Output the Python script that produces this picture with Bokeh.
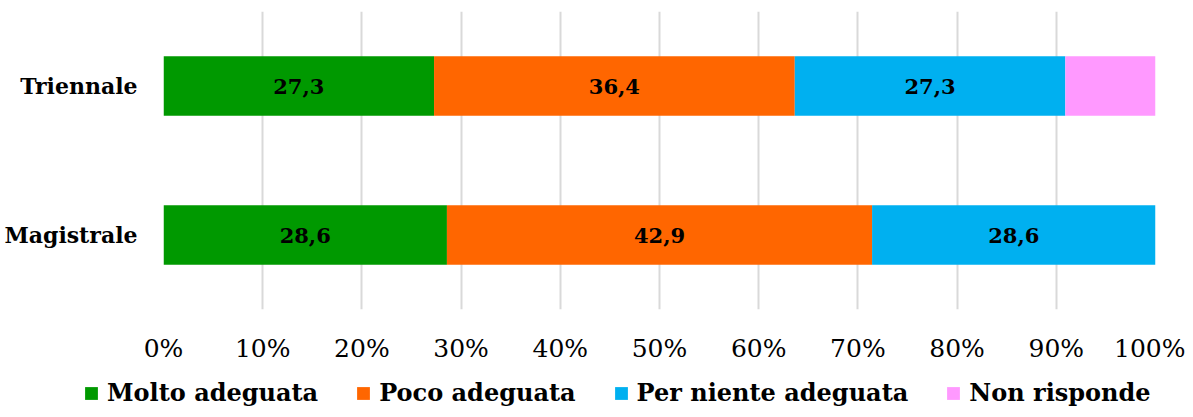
from bokeh.plotting import figure
from bokeh.layouts import column
from bokeh.models import ColumnDataSource, Range1d, FactorRange, FixedTicker, Legend, LegendItem, CustomJSTickFormatter
from bokeh.core.properties import value
from bokeh.embed import file_html
from bokeh.resources import INLINE

categories = ["Magistrale", "Triennale"]
series = ["Molto adeguata", "Poco adeguata", "Per niente adeguata", "Non risponde"]
molto = [28.6, 27.3]
poco = [42.9, 36.4]
per_niente = [28.6, 27.3]
non_risp = [0.0, 9.1]
colors = ["#009900", "#ff6600", "#00b0f0", "#ff99ff"]
ticks = [0, 10, 20, 30, 40, 50, 60, 70, 80, 90, 100]
show_label = [True, True, True, False]

FONT = "DejaVu Serif"

raw = [molto, poco, per_niente, non_risp]
totals = [sum(r[i] for r in raw) for i in range(len(categories))]
keys = ["s0", "s1", "s2", "s3"]
data = {"cat": categories}
for k, r in zip(keys, raw):
    data[k] = [v / t * 100 for v, t in zip(r, totals)]
source = ColumnDataSource(data)

p = figure(width=1185, height=373, output_backend="svg", toolbar_location=None,
           y_range=FactorRange(factors=categories, range_padding=0),
           x_range=Range1d(0, 100),
           min_border_left=163, min_border_right=30, min_border_top=11, min_border_bottom=64)
p.outline_line_color = None
p.frame_align = False

renderers = p.hbar_stack(keys, y="cat", height=0.4, color=colors, line_color=None, source=source)

lab_x, lab_y, lab_t = [], [], []
for i, cat in enumerate(categories):
    cum = 0
    for j, k in enumerate(keys):
        v = data[k][i]
        if show_label[j] and raw[j][i] > 0:
            lab_x.append(cum + v / 2)
            lab_y.append(cat)
            lab_t.append(f"{raw[j][i]:.1f}".replace(".", ","))
        cum += v
lsrc = ColumnDataSource(dict(x=lab_x, y=lab_y, t=lab_t))
p.text(x="x", y="y", text="t", source=lsrc, text_align="center", text_baseline="middle",
       text_font=value(FONT), text_font_style="bold", text_font_size="21px", text_color="#000000")

p.xgrid.grid_line_color = "#d9d9d9"
p.xgrid.grid_line_width = 2
p.ygrid.grid_line_color = None
p.xaxis.ticker = FixedTicker(ticks=ticks)
p.xaxis.formatter = CustomJSTickFormatter(code="return tick + '%';")
for ax in (p.xaxis[0], p.yaxis[0]):
    ax.axis_line_color = None
    ax.major_tick_line_color = None
    ax.minor_tick_line_color = None
    ax.major_tick_out = 0
    ax.major_tick_in = 0
p.xaxis.major_label_text_font = FONT
p.xaxis.major_label_text_font_size = "25px"
p.xaxis.major_label_text_color = "#000000"
p.xaxis.major_label_standoff = 24
p.yaxis.major_label_text_font = FONT
p.yaxis.major_label_text_font_style = "bold"
p.yaxis.major_label_text_font_size = "22px"
p.yaxis.major_label_text_color = "#000000"
p.yaxis.major_label_standoff = 26

# legend strip below the chart (its bars lie outside its visible x range)
p2 = figure(width=1185, height=36, output_backend="svg", toolbar_location=None,
            x_range=Range1d(-2, -1), y_range=FactorRange(factors=categories, range_padding=0),
            x_axis_type=None, y_axis_type=None, min_border=0,
            min_border_left=0, min_border_right=0, min_border_top=0, min_border_bottom=0)
p2.outline_line_color = None
p2.frame_align = False
leg_renderers = p2.hbar_stack(keys, y="cat", height=0.4, color=colors, line_color=None, source=source)
items = [LegendItem(label=s, renderers=[r]) for s, r in zip(series, leg_renderers)]
legend = Legend(items=items, orientation="horizontal", location=(83, 2),
                label_text_font=FONT, label_text_font_style="bold", label_text_font_size="24px",
                label_text_color="#000000", glyph_width=16, glyph_height=16, label_standoff=8,
                spacing=37, padding=0, margin=0, border_line_color=None,
                background_fill_alpha=0)
p2.add_layout(legend, "center")

layout = column(p, p2, spacing=0)
open("out.html", "w").write(file_html(layout, INLINE))
